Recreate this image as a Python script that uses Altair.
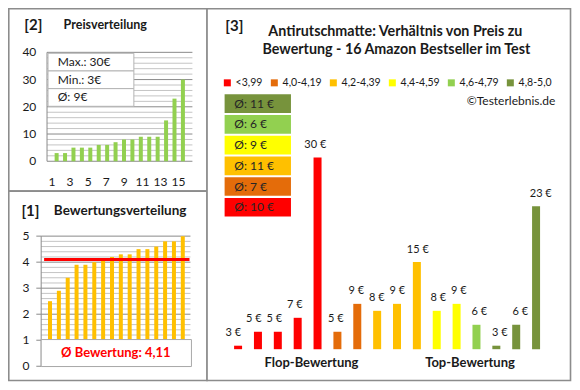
import altair as alt
import pandas as pd

# ---------------- data ----------------
product_no = list(range(1, 17))
prices_sorted = [3, 3, 5, 5, 5, 6, 6, 7, 8, 8, 9, 9, 9, 15, 23, 30]
ratings_sorted = [2.5, 2.9, 3.4, 3.9, 3.9, 4.0, 4.1, 4.2, 4.3, 4.3, 4.5, 4.5, 4.6, 4.8, 4.8, 5.0]
prices_by_rating = [3, 5, 5, 7, 30, 5, 9, 8, 9, 15, 8, 9, 6, 3, 6, 23]
rating_groups = (["<3,99"] * 5 + ["4,0-4,19"] * 2 + ["4,2-4,39"] * 3
                 + ["4,4-4,59"] * 2 + ["4,6-4,79"] + ["4,8-5,0"] * 3)
group_names = ["<3,99", "4,0-4,19", "4,2-4,39", "4,4-4,59", "4,6-4,79", "4,8-5,0"]
group_colors = ["#FF0000", "#E46C0A", "#FFC000", "#FFFF00", "#92D050", "#77933C"]
group_avg_price = [10, 7, 11, 9, 6, 11]
price_ticks = [0, 10, 20, 30, 40]
rating_ticks = [0, 1, 2, 3, 4, 5]
price_xlabels = [1, 3, 5, 7, 9, 11, 13, 15]

# ---------------- style / layout ----------------
FONT = "Lato"
TXT = "#1a1a1a"
GRID_MAJOR = "#8a8a8a"
GRID_MINOR = "#c4c4c4"
FRAME = "#8c8c8c"

W, H = 564, 374
SX = 563 / 577
SY = 373 / 387


def px(x):
    return round((x - 1) * SX, 2)


def py(y):
    return round((y - 1) * SY, 2)


one = pd.DataFrame({"k": [0]})


def rect(x1, y1, x2, y2, fill, stroke=None, sw=1.0):
    kw = dict(fill=fill)
    if stroke:
        kw.update(stroke=stroke, strokeWidth=sw)
    return alt.Chart(one).mark_rect(**kw).encode(
        x=alt.value(px(x1)), x2=alt.value(px(x2)),
        y=alt.value(py(y1)), y2=alt.value(py(y2)))


def label(text, x, y, size=12, bold=False, align="left", color=TXT):
    return alt.Chart(one).mark_text(
        text=text, font=FONT, fontSize=size,
        fontWeight="bold" if bold else "normal",
        align=align, baseline="middle", color=color,
    ).encode(x=alt.value(px(x)), y=alt.value(py(y)))


def vline(x, y1, y2, color, sw=1.0):
    return alt.Chart(one).mark_rule(color=color, strokeWidth=sw).encode(
        x=alt.value(px(x)), y=alt.value(py(y1)), y2=alt.value(py(y2)))


layers = []

# frames
layers += [
    rect(1.8, 1.8, 205, 191, "white", FRAME, 1.6),
    rect(1.8, 191, 205, 387.5, "white", FRAME, 1.6),
    rect(205, 1.8, 577.5, 387.5, "white", FRAME, 1.6),
]

# ---------------- panel [2] Preisverteilung ----------------
p2 = pd.DataFrame({"n": product_no, "price": prices_sorted})
p2x = alt.Scale(domain=[0.5, 16.5], range=[px(41.4), px(189.7)])
p2y = alt.Scale(domain=[0, 40], range=[py(160), py(47)], nice=False)
minor2 = [v for v in range(2, 40, 2) if v % 10]
major2 = [0, 10, 20, 30, 40]

layers.append(alt.Chart(pd.DataFrame({"v": minor2})).mark_rule(color=GRID_MINOR).encode(
    y=alt.Y("v:Q", scale=p2y, axis=None), x=alt.value(px(41)), x2=alt.value(px(190))))
layers.append(alt.Chart(pd.DataFrame({"v": major2})).mark_rule(color=GRID_MAJOR).encode(
    y=alt.Y("v:Q", scale=p2y, axis=None), x=alt.value(px(41)), x2=alt.value(px(190))))
layers.append(vline(41, 47, 160, GRID_MAJOR))
layers.append(alt.Chart(p2).mark_bar(color="#92D050", size=4, orient="vertical").encode(
    x=alt.X("n:Q", scale=p2x, axis=None), y=alt.Y("price:Q", scale=p2y, axis=None)))
layers.append(alt.Chart(pd.DataFrame({"n": price_xlabels})).mark_text(
    font=FONT, fontSize=12, color=TXT, baseline="middle").encode(
    x=alt.X("n:Q", scale=p2x, axis=None), y=alt.value(py(182)), text="n:Q"))
layers.append(alt.Chart(pd.DataFrame({"v": price_ticks})).mark_text(
    font=FONT, fontSize=12, color=TXT, align="right", baseline="middle").encode(
    y=alt.Y("v:Q", scale=p2y, axis=None), x=alt.value(px(30)), text="v:Q"))

mean_price = sum(prices_sorted) / len(prices_sorted)
info_rows = [f"Max.: {max(prices_sorted)}€", f"Min.: {min(prices_sorted)}€", f"Ø: {round(mean_price)}€"]
infoY = alt.Scale(domain=info_rows, range=[py(48), py(103)], paddingInner=0, paddingOuter=0)
info_df = pd.DataFrame({"row": info_rows})
layers.append(alt.Chart(info_df).mark_rect(fill="white", stroke="#b4b4b4", strokeWidth=1).encode(
    y=alt.Y("row:N", scale=infoY, axis=None), x=alt.value(px(42)), x2=alt.value(px(130))))
layers.append(alt.Chart(info_df).mark_text(font=FONT, fontSize=12, color=TXT, align="left", baseline="middle").encode(
    y=alt.Y("row:N", scale=infoY, axis=None), x=alt.value(px(52)), text="row:N"))

layers.append(label("[2]", 27, 19, 15, True, "center"))
layers.append(label("Preisverteilung", 58, 19, 12.5, True))

# ---------------- panel [1] Bewertungsverteilung ----------------
p1 = pd.DataFrame({"n": product_no, "rating": ratings_sorted})
p1x = alt.Scale(domain=[0.5, 16.5], range=[px(34.4), px(189.8)])
p1y = alt.Scale(domain=[0, 5], range=[py(372.7), py(237.7)], nice=False)
minor1 = [round(1 + i * 0.2, 1) for i in range(1, 20) if i % 5]
major1 = [1, 2, 3, 4, 5]

layers.append(alt.Chart(pd.DataFrame({"v": minor1})).mark_rule(color=GRID_MINOR).encode(
    y=alt.Y("v:Q", scale=p1y, axis=None), x=alt.value(px(35)), x2=alt.value(px(188))))
layers.append(alt.Chart(pd.DataFrame({"v": major1})).mark_rule(color=GRID_MAJOR).encode(
    y=alt.Y("v:Q", scale=p1y, axis=None), x=alt.value(px(35)), x2=alt.value(px(188))))
layers.append(alt.Chart(pd.DataFrame({"v": rating_ticks})).mark_rule(color=GRID_MAJOR).encode(
    y=alt.Y("v:Q", scale=p1y, axis=None), x=alt.value(px(30)), x2=alt.value(px(35))))
layers.append(vline(35, 237.7, 372.7, GRID_MAJOR))
layers.append(alt.Chart(p1).mark_bar(color="#FFC000", size=4, orient="vertical").encode(
    x=alt.X("n:Q", scale=p1x, axis=None), y=alt.Y("rating:Q", scale=p1y, axis=None)))
layers.append(alt.Chart(pd.DataFrame({"v": rating_ticks})).mark_text(
    font=FONT, fontSize=12, color=TXT, align="right", baseline="middle").encode(
    y=alt.Y("v:Q", scale=p1y, axis=None), x=alt.value(px(23)), text="v:Q"))

mean_rating = sum(ratings_sorted) / len(ratings_sorted)
layers.append(alt.Chart(pd.DataFrame({"m": [mean_rating]})).mark_rule(color="#FF0000", strokeWidth=3).encode(
    y=alt.Y("m:Q", scale=p1y, axis=None), x=alt.value(px(38)), x2=alt.value(px(187))))
layers.append(rect(35, 345, 189, 373, "white", "#a8a8a8", 1))
layers.append(label("Ø Bewertung: " + f"{mean_rating:.2f}".replace(".", ","), 111.5, 358.5, 13, True,
                    "center", "#FF0000"))

layers.append(label("[1]", 24, 212, 15, True, "center"))
layers.append(label("Bewertungsverteilung", 48, 212, 13.5, True))

# ---------------- panel [3] ----------------
p3 = pd.DataFrame({
    "n": product_no,
    "price": prices_by_rating,
    "group": rating_groups,
    "lbl": [f"{p} €" for p in prices_by_rating],
})
p3x = alt.Scale(domain=[0.5, 16.5], range=[px(221.5), px(557.5)])
p3y = alt.Scale(domain=[2.5, 30], range=[py(355), py(156)], nice=False, zero=False)
colscale = alt.Scale(domain=group_names, range=group_colors)

layers.append(alt.Chart(p3).mark_bar(size=8, orient="vertical").encode(
    x=alt.X("n:Q", scale=p3x, axis=None),
    y=alt.Y("price:Q", scale=p3y, axis=None),
    y2=alt.datum(2.5),
    color=alt.Color("group:N", scale=colscale, legend=alt.Legend(
        orient="none", legendX=px(224.5) - 4, legendY=py(71) + 2, direction="horizontal",
        title=None, symbolType="square", symbolSize=49, symbolStrokeWidth=0,
        labelFont=FONT, labelFontSize=10.5, labelColor=TXT, labelOffset=3,
        columnPadding=6, padding=0)),
))
layers.append(alt.Chart(p3).mark_text(font=FONT, fontSize=11, color=TXT, baseline="middle", dy=-12.5).encode(
    x=alt.X("n:Q", scale=p3x, axis=None), y=alt.Y("price:Q", scale=p3y, axis=None), text="lbl:N"))

avg_df = pd.DataFrame({
    "group": group_names[::-1],
    "lbl": [f"Ø: {a} €" for a in group_avg_price[::-1]],
})
avgY = alt.Scale(domain=group_names[::-1], range=[py(89.5), py(218.5)], paddingInner=0.1, paddingOuter=0.05)
layers.append(alt.Chart(avg_df).mark_rect().encode(
    y=alt.Y("group:N", scale=avgY, axis=None), x=alt.value(px(223)), x2=alt.value(px(291)),
    color=alt.Color("group:N", scale=colscale, legend=None)))
layers.append(alt.Chart(avg_df).mark_text(font=FONT, fontSize=12, color="#262626", align="left", baseline="middle").encode(
    y=alt.Y("group:N", scale=avgY, axis=None), x=alt.value(px(233)), text="lbl:N"))

layers.append(label("[3]", 233, 20, 15, True, "center"))
layers.append(label("Antirutschmatte: Verhältnis von Preis zu", 398, 26, 14.3, True, "center"))
layers.append(label("Bewertung - 16 Amazon Bestseller im Test", 399, 45, 14.3, True, "center"))
layers.append(label("©Testerlebnis.de", 562, 98, 12, False, "right"))
layers.append(label("Flop-Bewertung", 312, 369, 13, True, "center"))
layers.append(label("Top-Bewertung", 474.5, 369, 13, True, "center"))

chart = alt.layer(*layers).resolve_scale(
    x="independent", y="independent", color="independent"
).properties(
    width=W, height=H, autosize=alt.AutoSizeParams(type="none"), padding=0, background="white"
).configure_view(stroke=None)

chart.save("out.html", embed_options={"renderer": "svg", "actions": False})
